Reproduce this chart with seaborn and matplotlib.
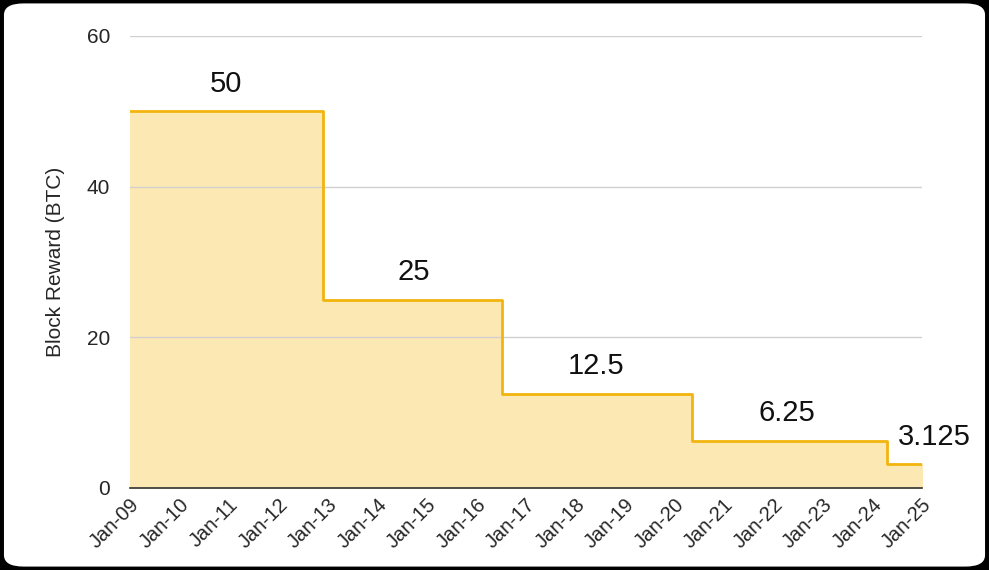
import matplotlib
matplotlib.use("Agg")
import matplotlib.pyplot as plt
import seaborn as sns
import pandas as pd
from matplotlib.patches import FancyBboxPatch

dates = ["2009-01-03", "2012-11-28", "2016-07-09", "2020-05-11", "2024-04-20", "2025-01-01"]
rewards = [50, 25, 12.5, 6.25, 3.125, 3.125]
label_texts = ["50", "25", "12.5", "6.25", "3.125"]
label_dates = ["2010-12-15", "2014-10-01", "2018-06-01", "2022-04-15", "2025-04-01"]
tick_labels = [f"Jan-{y:02d}" for y in range(9, 26)]

df = pd.DataFrame({"date": pd.to_datetime(dates), "reward": rewards})

sns.set_theme(style="white")
plt.rcParams['font.family'] = ['Liberation Sans', 'DejaVu Sans']
fig = plt.figure(figsize=(9.89, 5.70), dpi=100)
fig.patch.set_facecolor("black")
fig.patches.append(FancyBboxPatch((0.004, 0.006), 0.992, 0.988, boxstyle="round,pad=0,rounding_size=0.02",
                                  transform=fig.transFigure, facecolor="white", edgecolor="none", zorder=-1))
ax = fig.add_axes([0.131, 0.144, 0.801, 0.793])
ax.set_facecolor("white")
color = "#F2B50F"
sns.lineplot(data=df, x="date", y="reward", ax=ax, drawstyle="steps-post", color=color, linewidth=2)
ax.fill_between(df["date"], df["reward"], step="post", color="#FCE8B2", zorder=0)

ax.set_xlim(pd.Timestamp("2009-01-01"), pd.Timestamp("2025-01-01"))
ax.set_ylim(0, 60)
ax.set_yticks([0, 20, 40, 60])
ticks = pd.to_datetime([f"20{y:02d}-01-01" for y in range(9, 26)])
ax.set_xticks(ticks)
ax.set_xticklabels(tick_labels, rotation=45, ha="right", rotation_mode="anchor", fontsize=14.5)
ax.tick_params(axis="y", labelsize=15, length=0, pad=14)
ax.tick_params(axis="x", length=0, pad=5)
ax.grid(axis="y", color="#D0D0D0", linewidth=1)
ax.set_axisbelow(True)
for s in ["top", "right", "left"]:
    ax.spines[s].set_visible(False)
ax.spines["bottom"].set_color("#333333")
ax.spines["bottom"].set_linewidth(1.2)
ax.set_xlabel("")
ax.set_ylabel("Block Reward (BTC)", fontsize=15, labelpad=16)

for t, d, r in zip(label_texts, label_dates, rewards[:5]):
    ax.text(pd.Timestamp(d), r + 1.8, t, ha="center", va="bottom", fontsize=21, color="#111111", clip_on=False)

fig.savefig("out.png", dpi=100, facecolor=fig.get_facecolor())
